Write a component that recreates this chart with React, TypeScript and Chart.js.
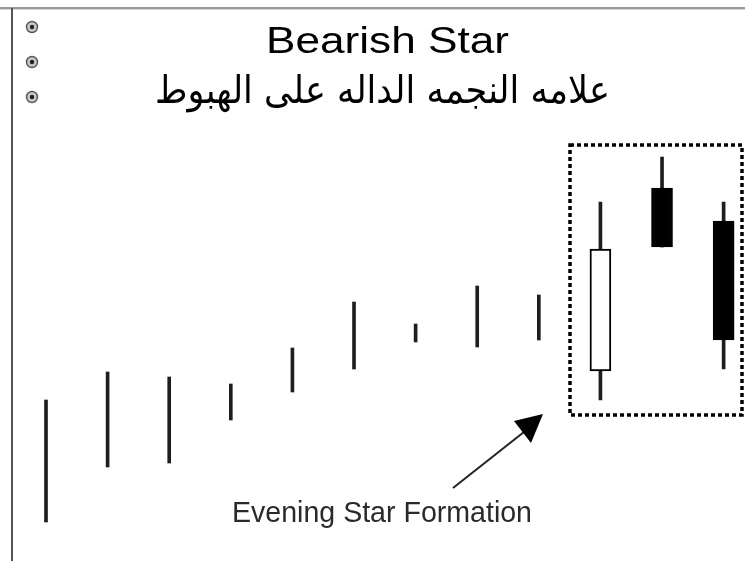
import React, { useEffect, useRef } from "react";
import { Chart, registerables } from "chart.js";

Chart.register(...registerables);

// ---- data ----
const sessions = ["1", "2", "3", "4", "5", "6", "7", "8", "9", "10", "11", "12"];
const highs = [16.1, 18.9, 18.4, 17.7, 21.3, 25.9, 23.7, 27.5, 26.6, 35.9, 40.4, 35.9];
const lows = [3.9, 9.4, 9.8, 14.1, 16.9, 19.2, 21.9, 21.4, 22.1, 16.1, 31.4, 19.2];
// candle bodies (only the star formation has bodies); null = no body drawn
const opens: (number | null)[] = [null, null, null, null, null, null, null, null, null, 19.0, 37.3, 34.0];
const closes: (number | null)[] = [null, null, null, null, null, null, null, null, null, 31.2, 31.4, 22.1];
const titleText = "Bearish Star";
const arabicText = "علامه النجمه الداله على الهبوط";
const noteText = "Evening Star Formation";
const formationStart = 9; // first candle inside the dotted frame

function fitText(
  ctx: CanvasRenderingContext2D,
  text: string,
  font: string,
  left: number,
  right: number,
  baseline: number,
  color: string
) {
  ctx.save();
  ctx.font = font;
  ctx.fillStyle = color;
  ctx.textAlign = "left";
  ctx.textBaseline = "alphabetic";
  const w = ctx.measureText(text).width;
  const sx = (right - left) / w;
  ctx.translate(left, baseline);
  ctx.scale(sx, 1);
  ctx.fillText(text, 0, 0);
  ctx.restore();
}

const decorPlugin = {
  id: "decor",
  beforeDraw(chart: any) {
    const ctx: CanvasRenderingContext2D = chart.ctx;
    ctx.save();
    ctx.fillStyle = "#ffffff";
    ctx.fillRect(0, 0, chart.width, chart.height);
    // window frame remnants
    ctx.fillStyle = "#9a9a9a";
    ctx.fillRect(0, 7, chart.width, 2);
    ctx.fillStyle = "#d8d8d8";
    ctx.fillRect(0, 9, chart.width, 1);
    ctx.fillStyle = "#555555";
    ctx.fillRect(11, 8, 2, chart.height - 8);
    // small radio icons
    [27, 62, 97].forEach((cy) => {
      ctx.beginPath();
      ctx.arc(32, cy, 5.5, 0, Math.PI * 2);
      ctx.fillStyle = "#c8c8c8";
      ctx.fill();
      ctx.lineWidth = 1.4;
      ctx.strokeStyle = "#555555";
      ctx.stroke();
      ctx.beginPath();
      ctx.arc(32, cy, 2.2, 0, Math.PI * 2);
      ctx.fillStyle = "#222222";
      ctx.fill();
    });
    ctx.restore();
  },
  afterDatasetsDraw(chart: any) {
    const ctx: CanvasRenderingContext2D = chart.ctx;
    const xs = chart.scales.x;
    const ys = chart.scales.y;
    // dotted frame around the formation
    const fHighs = highs.slice(formationStart);
    const fLows = lows.slice(formationStart);
    const left = Math.round(xs.getPixelForValue(formationStart - 0.5));
    const right = Math.round(xs.getPixelForValue(highs.length - 0.7));
    const top = Math.round(ys.getPixelForValue(Math.max(...fHighs) + 1.2));
    const bottom = Math.round(ys.getPixelForValue(Math.min(...fLows) - 1.5));
    ctx.save();
    ctx.strokeStyle = "#000000";
    ctx.lineWidth = 3.5;
    ctx.setLineDash([4, 3]);
    ctx.strokeRect(left, top, right - left, bottom - top);
    ctx.restore();

    // titles
    fitText(ctx, titleText, "37px 'Liberation Sans', Arial, sans-serif", 266, 509, 53, "#000000");
    fitText(ctx, arabicText, "38px 'DejaVu Sans', sans-serif", 155, 610, 103, "#000000");
    fitText(ctx, noteText, "30px 'Liberation Sans', Arial, sans-serif", 232, 532, 522, "#2a2a2a");

    // arrow
    const tipX = left - 27;
    const tipY = bottom - 1;
    ctx.save();
    ctx.strokeStyle = "#222222";
    ctx.lineWidth = 2;
    ctx.beginPath();
    ctx.moveTo(453, 488);
    ctx.lineTo(tipX - 14, tipY + 14);
    ctx.stroke();
    ctx.fillStyle = "#000000";
    ctx.beginPath();
    ctx.moveTo(tipX, tipY);
    ctx.lineTo(tipX - 29, tipY + 7);
    ctx.lineTo(tipX - 12, tipY + 29);
    ctx.closePath();
    ctx.fill();
    ctx.restore();
  },
};

export default function App() {
  const ref = useRef<HTMLCanvasElement | null>(null);
  useEffect(() => {
    if (!ref.current) return;
    const wickData = sessions.map((_, i) => ({ x: i, y: [lows[i], highs[i]] }));
    const bodyData = sessions.map((_, i) =>
      opens[i] === null ? { x: i, y: null } : { x: i, y: [opens[i], closes[i]] }
    );
    const bodyColors = sessions.map((_, i) =>
      opens[i] !== null && (closes[i] as number) > (opens[i] as number) ? "#ffffff" : "#000000"
    );
    const chart = new Chart(ref.current, {
      type: "bar",
      data: {
        datasets: [
          {
            label: "Body",
            data: bodyData as any,
            backgroundColor: bodyColors,
            borderColor: "#000000",
            borderWidth: 2,
            borderSkipped: false,
            barThickness: 21,
            grouped: false,
          } as any,
          {
            label: "High-Low",
            data: wickData as any,
            backgroundColor: "#1e1e1e",
            borderWidth: 0,
            barThickness: 3,
            grouped: false,
          } as any,
        ],
      },
      options: {
        animation: false,
        responsive: false,
        maintainAspectRatio: false,
        layout: { padding: 0 },
        plugins: { legend: { display: false }, tooltip: { enabled: false } },
        scales: {
          x: { type: "linear", min: -0.7468, max: 11.347, display: false, offset: false },
          y: { type: "linear", min: 0, max: 56.1, display: false },
        },
      },
      plugins: [decorPlugin],
    });
    return () => chart.destroy();
  }, []);
  return (
    <div style={{ position: "absolute", left: 0, top: 0, width: 745, height: 561, background: "#fff" }}>
      <canvas ref={ref} width={745} height={561} style={{ display: "block" }} />
    </div>
  );
}
